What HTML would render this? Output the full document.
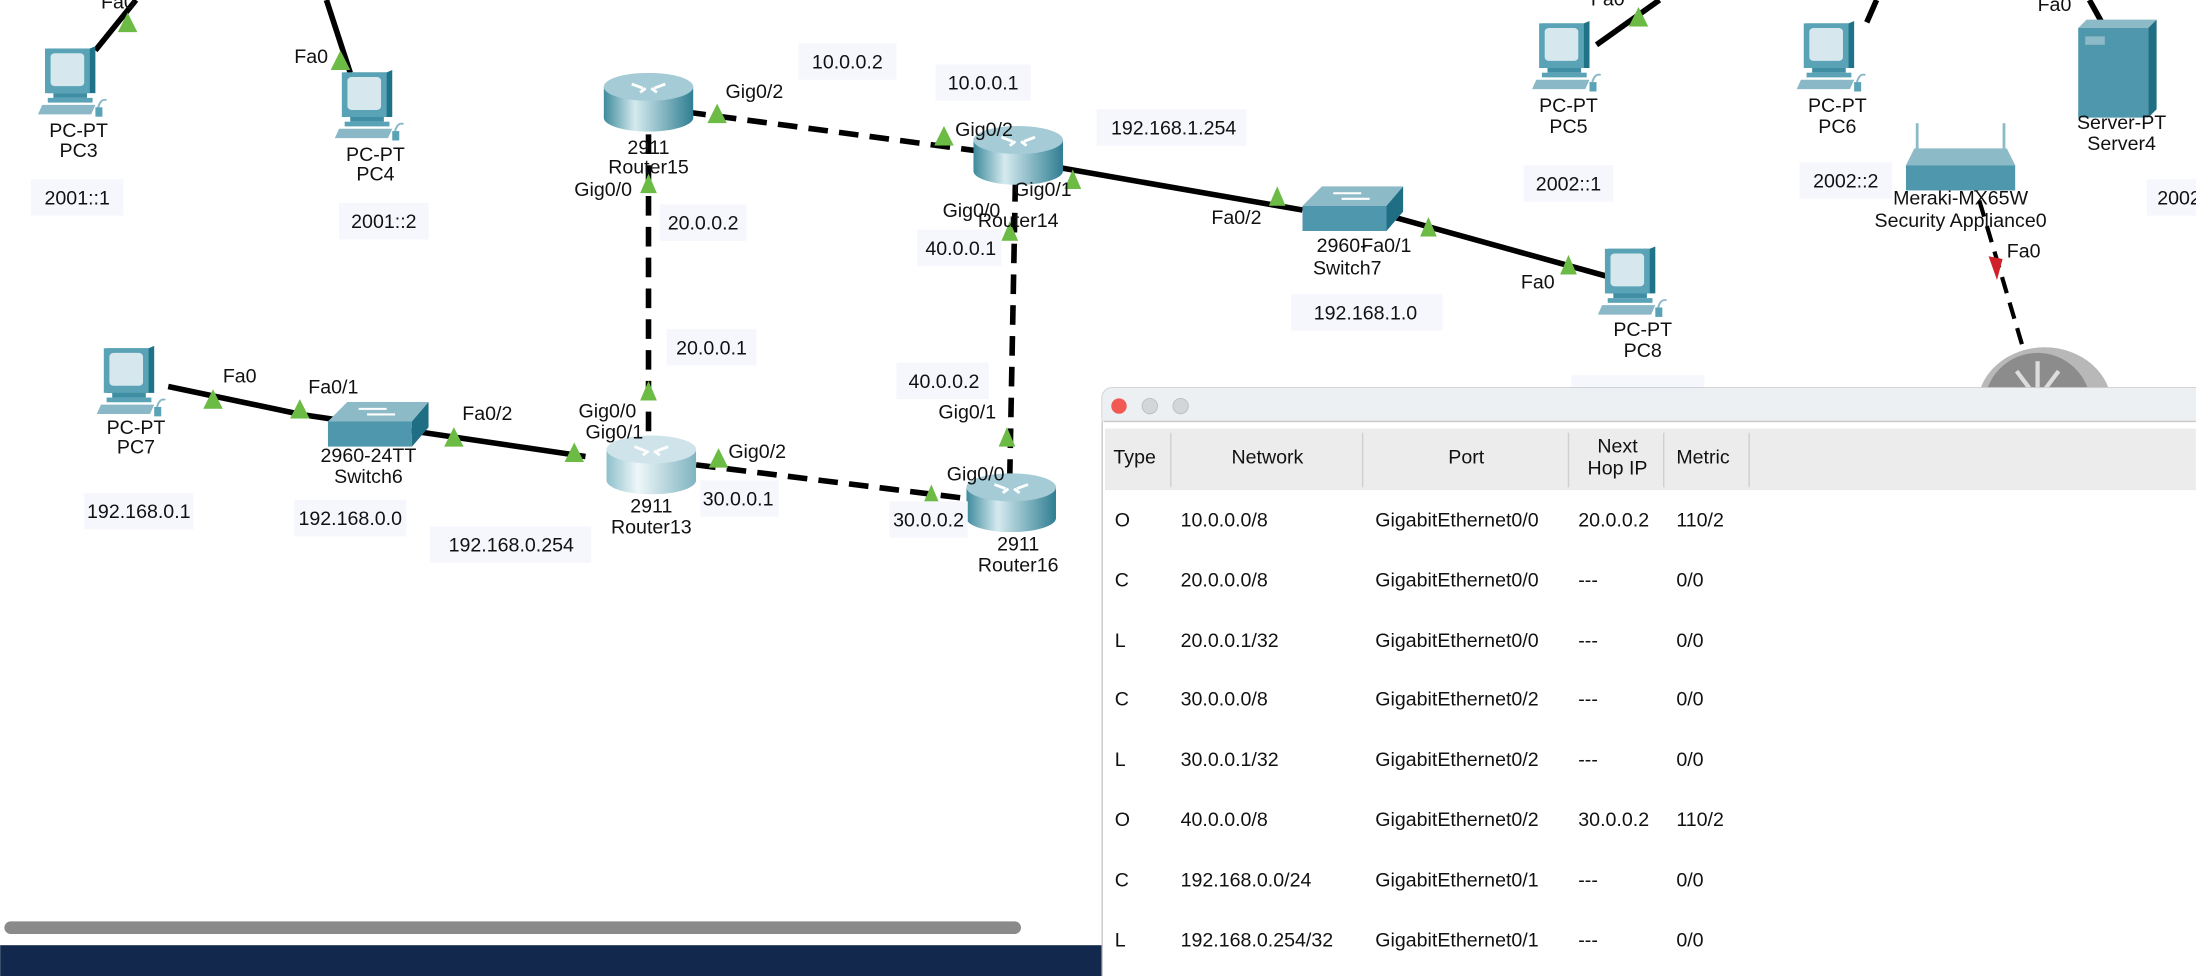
<!DOCTYPE html>
<html><head><meta charset="utf-8">
<style>
html,body{margin:0;padding:0;background:#fff;overflow:hidden}
svg{display:block}
text{font-family:"Liberation Sans",Arial,sans-serif;fill:#111}
</style></head>
<body>
<svg width="2196" height="976" viewBox="0 0 1568 697" xmlns="http://www.w3.org/2000/svg">
<defs>
<linearGradient id="rg" x1="0" x2="1" y1="0" y2="0">
<stop offset="0" stop-color="#3d8a9c"/><stop offset="0.35" stop-color="#d5eaef"/><stop offset="1" stop-color="#2f7e92"/></linearGradient>
<linearGradient id="rgl" x1="0" x2="1" y1="0" y2="0">
<stop offset="0" stop-color="#8fc0cc"/><stop offset="0.35" stop-color="#eef7f9"/><stop offset="1" stop-color="#7fb3c0"/></linearGradient>
<symbol id="pc" viewBox="0 0 56 62" preserveAspectRatio="none">
<path d="M8 2h30l4-2v40h-34z" fill="#1f7389"/>
<rect x="6" y="2" width="32" height="38" fill="#5aa3b6"/>
<rect x="10" y="6" width="24" height="28" rx="3" fill="#d6e7ee"/>
<rect x="12" y="40" width="24" height="4" fill="#3f8ea3"/>
<rect x="8" y="44" width="32" height="4" fill="#5aa3b6"/>
<path d="M4 50h38l-3 8h-38z" fill="#8ab8c6"/>
<rect x="42" y="52" width="5" height="8" fill="#5aa3b6"/>
<path d="M44 52q2-8 6-6" stroke="#8ab8c6" fill="none" stroke-width="1.5"/>
</symbol>
<symbol id="rt" viewBox="0 0 64 42" preserveAspectRatio="none">
<rect x="0" y="10" width="64" height="22" fill="url(#rg)"/>
<ellipse cx="32" cy="32" rx="32" ry="10" fill="url(#rg)"/>
<ellipse cx="32" cy="10" rx="32" ry="10" fill="#a5ccd6"/>
<path d="M20 8l8 3M44 8l-8 3M26 14l4-3M38 14l-4-3" stroke="#fff" stroke-width="2"/>
</symbol>
<symbol id="rtl" viewBox="0 0 64 42" preserveAspectRatio="none">
<rect x="0" y="10" width="64" height="22" fill="url(#rgl)"/>
<ellipse cx="32" cy="32" rx="32" ry="10" fill="url(#rgl)"/>
<ellipse cx="32" cy="10" rx="32" ry="10" fill="#cfe4ea"/>
<path d="M20 8l8 3M44 8l-8 3M26 14l4-3M38 14l-4-3" stroke="#fff" stroke-width="2"/>
</symbol>
<symbol id="sw" viewBox="0 0 72 32" preserveAspectRatio="none">
<path d="M0 14l14-14h58l-12 14z" fill="#8dbac7"/>
<rect x="0" y="14" width="60" height="18" fill="#4f97ad"/>
<path d="M60 14l12-14v18l-12 14z" fill="#1f6e84"/>
<path d="M22 5h20M28 9h20" stroke="#fff" stroke-width="1.5"/>
</symbol>
<symbol id="tri" viewBox="0 0 14 14" preserveAspectRatio="none"><path d="M7 0l7 14h-14z" fill="#6cbb45"/></symbol>
</defs>

<g stroke="#000" stroke-width="4" fill="none">
<line x1="97" y1="0" x2="68" y2="36"/>
<line x1="233" y1="0" x2="250" y2="52"/>
<line x1="1185" y1="0" x2="1140" y2="32"/>
<line x1="1340" y1="0" x2="1333" y2="16"/>
<line x1="1492" y1="0" x2="1502" y2="18"/>
<polyline points="120,276 215,296 418,326"/>
<line x1="758" y1="120" x2="930" y2="150"/>
<line x1="995" y1="155" x2="1150" y2="198"/>
</g>
<g stroke="#000" stroke-width="4" fill="none" stroke-dasharray="14 8">
<line x1="490" y1="80" x2="700" y2="108"/>
<line x1="463" y1="96" x2="463" y2="312"/>
<line x1="725" y1="130" x2="721" y2="340"/>
<line x1="497" y1="332" x2="690" y2="356"/>
</g>
<line x1="1408" y1="125" x2="1448" y2="260" stroke="#000" stroke-width="3" stroke-dasharray="12 7"/>

<use href="#pc" x="26" y="33" width="56" height="52"/>
<use href="#pc" x="238" y="50" width="56" height="52"/>
<use href="#pc" x="68" y="247" width="56" height="52"/>
<use href="#pc" x="1093" y="15" width="56" height="52"/>
<use href="#pc" x="1282" y="15" width="56" height="52"/>
<use href="#pc" x="1140" y="176" width="56" height="52"/>
<use href="#rt" x="431" y="52" width="64" height="42"/>
<use href="#rt" x="695" y="90" width="64" height="42"/>
<use href="#rtl" x="433" y="311" width="64" height="42"/>
<use href="#rt" x="690" y="338" width="64" height="42"/>
<use href="#sw" x="234" y="287" width="72" height="32"/>
<use href="#sw" x="930" y="133" width="72" height="32"/>
<path d="M1484 20l6-6h50l-6 6z" fill="#8dbac7"/>
<rect x="1484" y="20" width="50" height="64" fill="#4f97ad"/>
<path d="M1534 20l6-6v64l-6 6z" fill="#1f6e84"/>
<rect x="1489" y="26" width="14" height="6" fill="#8dbac7"/>
<line x1="1369" y1="88" x2="1369" y2="106" stroke="#8dbac7" stroke-width="2"/>
<line x1="1431" y1="88" x2="1431" y2="106" stroke="#8dbac7" stroke-width="2"/>
<path d="M1361 118l6-12h66l6 12z" fill="#8dbac7"/>
<rect x="1361" y="118" width="78" height="18" fill="#4f97ad"/>
<ellipse cx="1460" cy="290" rx="48" ry="42" fill="#b8b8b8"/>
<ellipse cx="1455" cy="290" rx="38" ry="38" fill="#8c8c8c"/>
<path d="M1455 258v40M1440 265l15 20 15-20" stroke="#ddd" stroke-width="3" fill="none"/>

<g>
<use href="#tri" x="84" y="9" width="14" height="14"/>
<use href="#tri" x="236" y="36" width="14" height="14"/>
<use href="#tri" x="505" y="74" width="14" height="14"/>
<use href="#tri" x="667" y="90" width="14" height="14"/>
<use href="#tri" x="760" y="121" width="12" height="14"/>
<use href="#tri" x="457" y="124" width="12" height="14"/>
<use href="#tri" x="715" y="158" width="12" height="14"/>
<use href="#tri" x="906" y="133" width="12" height="14"/>
<use href="#tri" x="1014" y="155" width="12" height="14"/>
<use href="#tri" x="1114" y="182" width="12" height="14"/>
<use href="#tri" x="1163" y="5" width="14" height="14"/>
<use href="#tri" x="145" y="278" width="14" height="14"/>
<use href="#tri" x="207" y="285" width="14" height="14"/>
<use href="#tri" x="317" y="305" width="14" height="14"/>
<use href="#tri" x="403" y="316" width="14" height="14"/>
<use href="#tri" x="457" y="272" width="12" height="14"/>
<use href="#tri" x="506" y="320" width="14" height="14"/>
<use href="#tri" x="659" y="346" width="12" height="14"/>
<use href="#tri" x="713" y="305" width="12" height="14"/>
</g>
<path d="M1420 183l10 2-4 15z" fill="#d0202a"/>

<g fill="#f6f7fd">
<rect x="22" y="128" width="66" height="26"/><rect x="242" y="145" width="64" height="26"/>
<rect x="570" y="31" width="70" height="26"/><rect x="668" y="46" width="68" height="26"/>
<rect x="471" y="146" width="62" height="26"/><rect x="476" y="235" width="64" height="26"/>
<rect x="655" y="164" width="60" height="26"/><rect x="640" y="259" width="66" height="26"/>
<rect x="783" y="78" width="107" height="26"/><rect x="922" y="210" width="108" height="26"/>
<rect x="1088" y="118" width="64" height="26"/><rect x="1285" y="116" width="66" height="26"/>
<rect x="1533" y="128" width="40" height="26"/>
<rect x="60" y="352" width="78" height="26"/><rect x="210" y="357" width="80" height="26"/>
<rect x="307" y="376" width="115" height="26"/><rect x="500" y="343" width="56" height="26"/>
<rect x="635" y="358" width="56" height="26"/><rect x="1122" y="268" width="95" height="10"/>
</g>

<g font-size="14" text-anchor="middle">
<text x="55" y="146">2001::1</text><text x="274" y="163">2001::2</text>
<text x="605" y="49">10.0.0.2</text><text x="702" y="64">10.0.0.1</text>
<text x="502" y="164">20.0.0.2</text><text x="508" y="253">20.0.0.1</text>
<text x="686" y="182">40.0.0.1</text><text x="674" y="277">40.0.0.2</text>
<text x="838" y="96">192.168.1.254</text><text x="975" y="228">192.168.1.0</text>
<text x="1120" y="136">2002::1</text><text x="1318" y="134">2002::2</text>
<text x="1556" y="146">2002</text>
<text x="99" y="370">192.168.0.1</text><text x="250" y="375">192.168.0.0</text>
<text x="365" y="394">192.168.0.254</text><text x="527" y="361">30.0.0.1</text>
<text x="663" y="376">30.0.0.2</text>
</g>

<g font-size="14" text-anchor="middle">
<text x="56" y="98">PC-PT</text><text x="56" y="112">PC3</text>
<text x="268" y="115">PC-PT</text><text x="268" y="129">PC4</text>
<text x="97" y="310">PC-PT</text><text x="97" y="324">PC7</text>
<text x="1120" y="80">PC-PT</text><text x="1120" y="95">PC5</text>
<text x="1312" y="80">PC-PT</text><text x="1312" y="95">PC6</text>
<text x="1173" y="240">PC-PT</text><text x="1173" y="255">PC8</text>
<text x="1515" y="92">Server-PT</text><text x="1515" y="107">Server4</text>
<text x="1400" y="146">Meraki-MX65W</text><text x="1400" y="162">Security Appliance0</text>
<text x="463" y="110">2911</text><text x="463" y="124">Router15</text>
<text x="727" y="162">Router14</text>
<text x="263" y="330">2960-24TT</text><text x="263" y="345">Switch6</text>
<text x="465" y="366">2911</text><text x="465" y="381">Router13</text>
<text x="727" y="393">2911</text><text x="727" y="408">Router16</text>
<text x="958" y="180">2960-</text><text x="962" y="196">Switch7</text>
</g>
<g font-size="14">
<text x="72" y="6">Fa0</text><text x="210" y="45">Fa0</text>
<text x="518" y="70">Gig0/2</text><text x="682" y="97">Gig0/2</text>
<text x="410" y="140">Gig0/0</text><text x="724" y="140">Gig0/1</text>
<text x="673" y="155">Gig0/0</text>
<text x="865" y="160">Fa0/2</text><text x="972" y="180">Fa0/1</text>
<text x="1086" y="206">Fa0</text><text x="1136" y="4">Fa0</text>
<text x="1455" y="8">Fa0</text><text x="1433" y="184">Fa0</text>
<text x="159" y="273">Fa0</text><text x="220" y="281">Fa0/1</text>
<text x="330" y="300">Fa0/2</text><text x="413" y="298">Gig0/0</text>
<text x="418" y="313">Gig0/1</text><text x="520" y="327">Gig0/2</text>
<text x="676" y="343">Gig0/0</text><text x="670" y="299">Gig0/1</text>
</g>

<rect x="3" y="658" width="726" height="9" rx="4.5" fill="#8a8a8a"/>
<rect x="0" y="675" width="790" height="22" fill="#12284c"/>

<rect x="787" y="277" width="790" height="430" rx="7" fill="#fff" stroke="#c8c8c8"/>
<path d="M794 277h780v24h-787v-17a7 7 0 0 1 7-7z" fill="#ecf0f2"/>
<line x1="788" y1="301" x2="1568" y2="301" stroke="#c8c8c8"/>
<circle cx="799" cy="290" r="5.5" fill="#f05a52"/>
<circle cx="821" cy="290" r="5.5" fill="#d3d6d8" stroke="#bbb" stroke-width="0.6"/>
<circle cx="843" cy="290" r="5.5" fill="#d3d6d8" stroke="#bbb" stroke-width="0.6"/>
<rect x="789" y="306" width="779" height="44" fill="#ececec"/>
<g stroke="#cfcfcf"><line x1="836" y1="309" x2="836" y2="348"/><line x1="973" y1="309" x2="973" y2="348"/><line x1="1120" y1="309" x2="1120" y2="348"/><line x1="1188" y1="309" x2="1188" y2="348"/><line x1="1249" y1="309" x2="1249" y2="348"/></g>
<g font-size="14">
<text x="795" y="331">Type</text>
<text x="905" y="331" text-anchor="middle">Network</text>
<text x="1047" y="331" text-anchor="middle">Port</text>
<text x="1155" y="323" text-anchor="middle">Next</text><text x="1155" y="339" text-anchor="middle">Hop IP</text>
<text x="1197" y="331">Metric</text>
</g>
<g font-size="14">
<text x="796" y="376">O</text><text x="843" y="376">10.0.0.0/8</text><text x="982" y="376">GigabitEthernet0/0</text><text x="1127" y="376">20.0.0.2</text><text x="1197" y="376">110/2</text>
<text x="796" y="419">C</text><text x="843" y="419">20.0.0.0/8</text><text x="982" y="419">GigabitEthernet0/0</text><text x="1127" y="419">---</text><text x="1197" y="419">0/0</text>
<text x="796" y="462">L</text><text x="843" y="462">20.0.0.1/32</text><text x="982" y="462">GigabitEthernet0/0</text><text x="1127" y="462">---</text><text x="1197" y="462">0/0</text>
<text x="796" y="504">C</text><text x="843" y="504">30.0.0.0/8</text><text x="982" y="504">GigabitEthernet0/2</text><text x="1127" y="504">---</text><text x="1197" y="504">0/0</text>
<text x="796" y="547">L</text><text x="843" y="547">30.0.0.1/32</text><text x="982" y="547">GigabitEthernet0/2</text><text x="1127" y="547">---</text><text x="1197" y="547">0/0</text>
<text x="796" y="590">O</text><text x="843" y="590">40.0.0.0/8</text><text x="982" y="590">GigabitEthernet0/2</text><text x="1127" y="590">30.0.0.2</text><text x="1197" y="590">110/2</text>
<text x="796" y="633">C</text><text x="843" y="633">192.168.0.0/24</text><text x="982" y="633">GigabitEthernet0/1</text><text x="1127" y="633">---</text><text x="1197" y="633">0/0</text>
<text x="796" y="676">L</text><text x="843" y="676">192.168.0.254/32</text><text x="982" y="676">GigabitEthernet0/1</text><text x="1127" y="676">---</text><text x="1197" y="676">0/0</text>
</g>
</svg>
</body></html>
